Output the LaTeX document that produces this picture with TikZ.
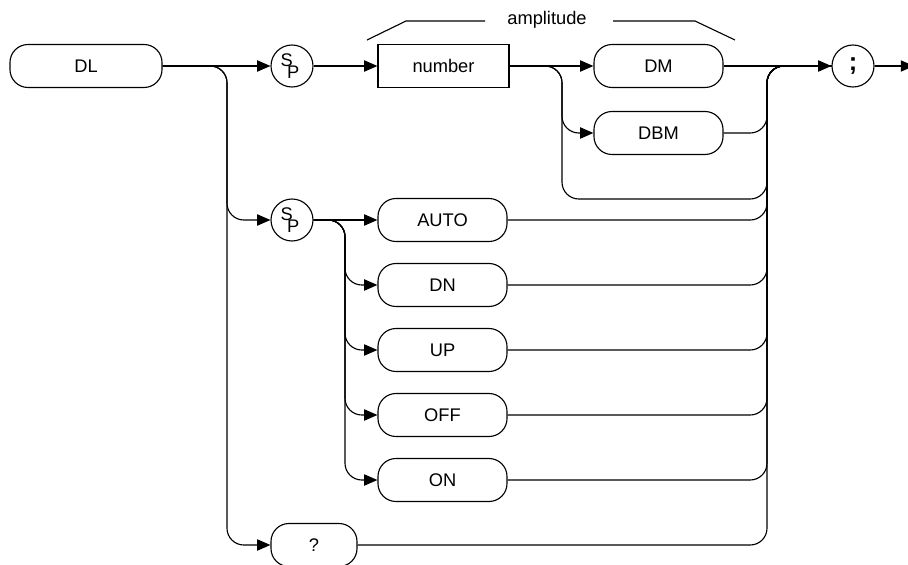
\documentclass[tikz,border=0pt]{standalone}
\usepackage{fontspec}
\setmainfont{Liberation Sans}
\usetikzlibrary{arrows.meta}

\newcommand{\spsym}{\raisebox{3.5pt}{S}\kern-4pt\raisebox{-5.5pt}{P}\kern3pt}

\begin{document}
\begin{tikzpicture}[x=0.025cm,y=-0.025cm,line width=0.8pt,
    font=\fontsize{13}{15}\selectfont,
    pill/.style={draw,rectangle,rounded corners=0.45cm,minimum width=3.225cm,minimum height=1.075cm,inner sep=0pt},
    token/.style={draw,circle,minimum size=1.05cm,inner sep=0pt},
    arr/.style={-{Triangle[length=0.33cm,width=0.28cm]}},
    wire/.style={rounded corners=0.42cm}]

    \useasboundingbox (0,0) rectangle (908,565);

    % Draw the keyword, the token circles and the number box
    \node[pill,minimum width=3.8cm] (dl) at (86,66) {DL};
    \node[token] (sp1) at (292,66) {\spsym};
    \node[token] (sp2) at (292,220) {\spsym};
    \node[draw,minimum width=3.275cm,minimum height=1.075cm,inner sep=0pt] (num) at (443.5,66) {number};
    \node[pill] (dm) at (658.5,66) {DM};
    \node[pill] (dbm) at (658.5,133) {DBM};
    \node[token,font=\bfseries\fontsize{18}{18}\selectfont] (semi) at (853,66) {;};
    \node[pill,minimum width=2.15cm] (q) at (314,545) {?};

    % Draw the rows of keywords after the second token
    \foreach \name/\txt/\y in {auto/AUTO/220, dn/DN/285, up/UP/350, off/OFF/415, on/ON/480} {
        \node[pill] (\name) at (442.5,\y) {\txt};
    }

    % Split and merge points
    \coordinate (b1) at (227,66);
    \coordinate (b2) at (562,66);
    \coordinate (b3) at (345,220);
    \coordinate (byp) at (562,199);
    \coordinate (m) at (767,66);
    \coordinate (out) at (914,66);

    % Amplitude bracket
    \node (amp) at (547,20) {amplitude};
    \draw (367,40) -- (406,21) -- (485,21);
    \draw (613,21) -- (695,21) -- (735,40);

    % Connectors
    \draw[arr] (dl.east) -- (sp1.west);
    \draw[arr] (sp1.east) -- (num.west);
    \draw[arr] (num.east) -- (dm.west);
    \draw[arr] (dm.east) -- (semi.west);
    \draw[arr] (semi.east) -- (out);
    \draw[arr,wire] (dl.east) -| (b1 |- sp2.west) -- (sp2.west);
    \draw[arr,wire] (dl.east) -| (b1 |- q.west) -- (q.west);
    \draw[arr,wire] (num.east) -| (b2 |- dbm.west) -- (dbm.west);
    \draw[wire] (num.east) -| (byp) -| (m) -- (semi.west);
    \draw[arr] (sp2.east) -- (auto.west);
    \foreach \name in {dn,up,off,on} {
        \draw[arr,wire] (sp2.east) -| (b3 |- \name.west) -- (\name.west);
    }
    \foreach \name in {dbm,auto,dn,up,off,on,q} {
        \draw[wire] (\name.east) -| (m) -- (semi.west);
    }

\end{tikzpicture}
\end{document}
